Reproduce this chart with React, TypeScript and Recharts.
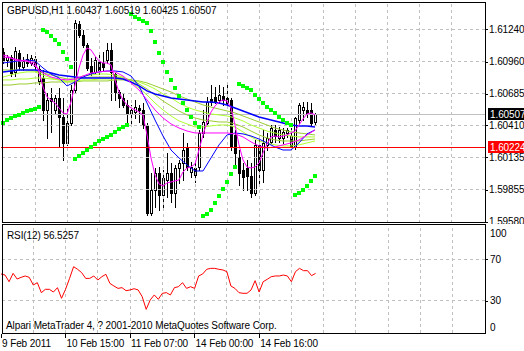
import React from 'react';
import { ComposedChart, Bar, Line, Scatter, XAxis, YAxis, ReferenceLine } from 'recharts';

const FONT = '"Liberation Sans", Arial, sans-serif';
const SLOTS = 121; // 4px per hourly bar across the price panel

// GBPUSD H1 candles, 9 Feb 23:00 onwards
const opens = [
  1.61044, 1.60975, 1.61001, 1.60872, 1.61036, 1.60915, 1.60984, 1.60949, 1.60984, 1.60794,
  1.60820, 1.60544, 1.60647, 1.60544, 1.60647, 1.60483, 1.60259, 1.60431, 1.60716, 1.61286,
  1.61191, 1.61105, 1.60923, 1.60872, 1.60958, 1.60949, 1.60975, 1.61062, 1.60854, 1.60699,
  1.60647, 1.60587, 1.60518, 1.60526, 1.60561, 1.60544, 1.60414, 1.59655, 1.59853, 1.60000,
  1.59810, 1.59940, 1.60000, 1.59827, 1.60043, 1.60086, 1.60216, 1.60009, 1.60043, 1.60052,
  1.60345, 1.60431, 1.60639, 1.60656, 1.60630, 1.60665, 1.60647, 1.60630, 1.60328, 1.60138,
  1.60026, 1.60043, 1.59974, 1.59827, 1.60242, 1.60026, 1.60242, 1.60268, 1.60371, 1.60302,
  1.60302, 1.60345, 1.60319, 1.60224, 1.60457, 1.60544, 1.60544, 1.60544, 1.60437,
];
const highs = [
  1.61079, 1.61018, 1.61018, 1.61087, 1.61062, 1.61001, 1.61027, 1.61018, 1.61010, 1.60923,
  1.60889, 1.60690, 1.60734, 1.60673, 1.60734, 1.60647, 1.60569, 1.60759, 1.61320, 1.61312,
  1.61234, 1.61122, 1.60992, 1.61001, 1.61018, 1.61044, 1.61122, 1.61122, 1.60863, 1.60716,
  1.60690, 1.60630, 1.60587, 1.60630, 1.60587, 1.60604, 1.60431, 1.60000, 1.60043, 1.60052,
  1.60026, 1.60173, 1.60086, 1.60069, 1.60112, 1.60345, 1.60259, 1.60095, 1.60112, 1.60371,
  1.60544, 1.60656, 1.60759, 1.60742, 1.60759, 1.60742, 1.60777, 1.60647, 1.60371, 1.60198,
  1.60086, 1.60112, 1.60086, 1.60285, 1.60285, 1.60371, 1.60345, 1.60414, 1.60414, 1.60397,
  1.60388, 1.60388, 1.60388, 1.60483, 1.60604, 1.60613, 1.60613, 1.60604, 1.60519,
];
const lows = [
  1.60949, 1.60923, 1.60837, 1.60837, 1.60889, 1.60889, 1.60923, 1.60932, 1.60889, 1.60768,
  1.60457, 1.60302, 1.60354, 1.60518, 1.60224, 1.60112, 1.60242, 1.60414, 1.60699, 1.61174,
  1.61087, 1.60889, 1.60846, 1.60863, 1.60854, 1.60889, 1.60949, 1.60630, 1.60630, 1.60569,
  1.60569, 1.60414, 1.60431, 1.60475, 1.60440, 1.60388, 1.59638, 1.59638, 1.59707, 1.59681,
  1.59707, 1.59793, 1.59750, 1.59707, 1.59914, 1.59940, 1.60026, 1.59966, 1.59922, 1.60026,
  1.60311, 1.60414, 1.60587, 1.60604, 1.60604, 1.60587, 1.60587, 1.60198, 1.60052, 1.59897,
  1.59853, 1.59853, 1.59793, 1.59810, 1.59897, 1.59922, 1.60198, 1.60259, 1.60268, 1.60268,
  1.60259, 1.60311, 1.60198, 1.60207, 1.60431, 1.60457, 1.60483, 1.60414, 1.60425,
];
const closes = [
  1.60975, 1.61001, 1.60863, 1.61053, 1.60923, 1.60967, 1.60949, 1.60992, 1.60923, 1.60898,
  1.60544, 1.60630, 1.60621, 1.60647, 1.60483, 1.60259, 1.60431, 1.60716, 1.61295, 1.61191,
  1.61105, 1.60906, 1.60872, 1.60975, 1.60889, 1.60915, 1.61062, 1.60872, 1.60699, 1.60647,
  1.60587, 1.60518, 1.60544, 1.60569, 1.60544, 1.60414, 1.59655, 1.59853, 1.60000, 1.59810,
  1.59957, 1.60000, 1.59827, 1.60043, 1.60086, 1.60198, 1.60052, 1.60052, 1.59983, 1.60345,
  1.60440, 1.60613, 1.60613, 1.60621, 1.60673, 1.60630, 1.60604, 1.60224, 1.60173, 1.60000,
  1.59966, 1.59974, 1.59827, 1.60242, 1.60026, 1.60259, 1.60302, 1.60388, 1.60319, 1.60371,
  1.60354, 1.60371, 1.60224, 1.60475, 1.60587, 1.60569, 1.60518, 1.60431, 1.60507,
];

// Parabolic SAR
const sar = [
  1.60431, 1.60457, 1.60475, 1.60492, 1.60501, 1.60518, 1.60535, 1.60544, 1.60552, 1.60569,
  1.61234, 1.61217, 1.61182, 1.61148, 1.61113, 1.61044, 1.60984, 1.60915, 1.60121, 1.60147,
  1.60173, 1.60198, 1.60224, 1.60250, 1.60276, 1.60293, 1.60311, 1.60328, 1.60354, 1.60380,
  1.60397, 1.60414, 1.61372, 1.61346, 1.61329, 1.61312, 1.61295, 1.61225, 1.61131, 1.61036,
  1.60958, 1.60872, 1.60803, 1.60734, 1.60665, 1.60604, 1.60544, 1.60483, 1.60431, 1.60397,
  1.59629, 1.59646, 1.59681, 1.59741, 1.59801, 1.59862, 1.59922, 1.59991, 1.60052, 1.60768,
  1.60751, 1.60734, 1.60716, 1.60673, 1.60639, 1.60604, 1.60569, 1.60544, 1.60518, 1.60483,
  1.60457, 1.60431, 1.60414, 1.59810, 1.59827, 1.59853, 1.59888, 1.59931, 1.59974,
];

// fast magenta average, every bar
const magentaFast = [
  1.61018, 1.61010, 1.60992, 1.60975, 1.60967, 1.60967, 1.60967, 1.60958, 1.60949, 1.60872,
  1.60742, 1.60656, 1.60630, 1.60604, 1.60561, 1.60518, 1.60509, 1.60613, 1.60759, 1.60906,
  1.61018, 1.61079, 1.61062, 1.61010, 1.60967, 1.60949, 1.60949, 1.60932, 1.60803, 1.60699,
  1.60630, 1.60587, 1.60561, 1.60544, 1.60526, 1.60501, 1.60328, 1.60130, 1.59983, 1.59905,
  1.59888, 1.59914, 1.59922, 1.59931, 1.59940, 1.60009, 1.60043, 1.60052, 1.60078, 1.60198,
  1.60328, 1.60440, 1.60526, 1.60578, 1.60613, 1.60630, 1.60621, 1.60561, 1.60414, 1.60242,
  1.60112, 1.60052, 1.60043, 1.60052, 1.60086, 1.60173, 1.60250, 1.60311, 1.60319, 1.60311,
  1.60319, 1.60328, 1.60345, 1.60362, 1.60414, 1.60466, 1.60509, 1.60518, 1.60501,
];

// slower averages, read every second bar
const magentaSlow = [
  1.61001, 1.60992, 1.60975, 1.60967, 1.60923, 1.60863, 1.60828, 1.60811, 1.60803, 1.60811,
  1.60837, 1.60863, 1.60872, 1.60880, 1.60872, 1.60837, 1.60777, 1.60716, 1.60630, 1.60544,
  1.60475, 1.60423, 1.60388, 1.60362, 1.60345, 1.60345, 1.60345, 1.60345, 1.60345, 1.60337,
  1.60311, 1.60268, 1.60233, 1.60216, 1.60224, 1.60242, 1.60259, 1.60285, 1.60328, 1.60371,
];
const blueFast = [
  1.60949, 1.60958, 1.60967, 1.60975, 1.60967, 1.60906, 1.60854, 1.60820, 1.60751, 1.60785,
  1.60828, 1.60854, 1.60872, 1.60880, 1.60880, 1.60872, 1.60837, 1.60751, 1.60604, 1.60457,
  1.60319, 1.60198, 1.60130, 1.60069, 1.60017, 1.60017, 1.60130, 1.60242, 1.60328, 1.60345,
  1.60337, 1.60319, 1.60293, 1.60259, 1.60224, 1.60198, 1.60198, 1.60259, 1.60337, 1.60371,
];
const blueSlow = [
  1.60872, 1.60880, 1.60889, 1.60889, 1.60889, 1.60880, 1.60863, 1.60846, 1.60837, 1.60828,
  1.60820, 1.60820, 1.60820, 1.60820, 1.60820, 1.60811, 1.60785, 1.60751, 1.60708, 1.60682,
  1.60665, 1.60647, 1.60639, 1.60630, 1.60621, 1.60613, 1.60613, 1.60604, 1.60587, 1.60561,
  1.60535, 1.60509, 1.60483, 1.60466, 1.60449, 1.60431, 1.60414, 1.60406, 1.60406, 1.60397,
];
const green1 = [
  1.60828, 1.60846, 1.60863, 1.60872, 1.60872, 1.60846, 1.60820, 1.60803, 1.60785, 1.60803,
  1.60837, 1.60846, 1.60854, 1.60854, 1.60846, 1.60828, 1.60785, 1.60734, 1.60673, 1.60604,
  1.60544, 1.60492, 1.60449, 1.60423, 1.60397, 1.60397, 1.60406, 1.60414, 1.60414, 1.60397,
  1.60354, 1.60311, 1.60276, 1.60259, 1.60242, 1.60233, 1.60233, 1.60242, 1.60259, 1.60276,
];
const green2 = [
  1.60889, 1.60889, 1.60889, 1.60889, 1.60880, 1.60863, 1.60846, 1.60828, 1.60811, 1.60811,
  1.60820, 1.60828, 1.60828, 1.60828, 1.60828, 1.60820, 1.60803, 1.60768, 1.60725, 1.60673,
  1.60621, 1.60578, 1.60535, 1.60501, 1.60475, 1.60457, 1.60449, 1.60440, 1.60440, 1.60423,
  1.60397, 1.60362, 1.60328, 1.60302, 1.60285, 1.60276, 1.60276, 1.60276, 1.60285, 1.60293,
];
const green3 = [
  1.60803, 1.60803, 1.60811, 1.60811, 1.60820, 1.60820, 1.60811, 1.60803, 1.60794, 1.60794,
  1.60803, 1.60803, 1.60811, 1.60811, 1.60811, 1.60811, 1.60803, 1.60785, 1.60759, 1.60725,
  1.60682, 1.60647, 1.60604, 1.60569, 1.60544, 1.60526, 1.60509, 1.60501, 1.60492, 1.60475,
  1.60449, 1.60414, 1.60388, 1.60362, 1.60345, 1.60328, 1.60319, 1.60311, 1.60311, 1.60311,
];
const green4 = [
  1.60759, 1.60759, 1.60768, 1.60768, 1.60777, 1.60777, 1.60785, 1.60785, 1.60785, 1.60785,
  1.60794, 1.60794, 1.60794, 1.60794, 1.60803, 1.60803, 1.60803, 1.60794, 1.60777, 1.60751,
  1.60725, 1.60699, 1.60665, 1.60639, 1.60613, 1.60587, 1.60569, 1.60552, 1.60535, 1.60518,
  1.60492, 1.60466, 1.60440, 1.60414, 1.60388, 1.60371, 1.60354, 1.60345, 1.60337, 1.60328,
];

// RSI(12)
const rsi = [
  55.9, 54.9, 48.5, 56.5, 51.1, 52.7, 54.0, 52.7, 45.3, 47.6,
  38.0, 41.2, 41.2, 38.6, 42.8, 32.6, 41.2, 51.7, 62.9, 60.4,
  57.2, 51.7, 51.7, 54.0, 50.1, 53.3, 55.6, 46.9, 44.4, 42.1,
  42.8, 39.9, 40.6, 41.8, 40.6, 34.2, 22.0, 31.0, 35.8, 31.6,
  37.4, 38.0, 35.8, 42.8, 43.7, 47.6, 42.1, 43.7, 42.1, 54.0,
  55.9, 60.4, 61.3, 61.3, 60.4, 59.8, 58.1, 44.4, 42.1, 38.0,
  37.4, 37.4, 40.6, 49.5, 38.6, 48.5, 50.8, 53.3, 54.0, 54.0,
  54.9, 54.0, 48.5, 58.1, 61.3, 59.1, 59.1, 54.3, 56.5,
];

const timeLabels: Record<number, string> = {
  0: '9 Feb 2011',
  16: '10 Feb 15:00',
  32: '11 Feb 07:00',
  48: '14 Feb 00:00',
  64: '14 Feb 16:00',
};
const priceTicks = [1.6124, 1.6096, 1.60685, 1.6041, 1.60135, 1.59855, 1.5958];
const gridPrices = [1.6124, 1.6096, 1.60685, 1.6041, 1.60135, 1.59855];
const gridBars = [8, 16, 24, 32, 40, 48, 56, 64, 72, 80, 88, 96, 104, 112];
const bidPrice = 1.60507;
const alertPrice = 1.60224;
const rsiTicks = [0, 30, 70, 100];
const rsiLevels = [70, 30];

const rows = Array.from({ length: SLOTS }, (_, t) => {
  const r: any = { t };
  if (t < opens.length) {
    r.open = opens[t];
    r.high = highs[t];
    r.low = lows[t];
    r.close = closes[t];
    r.range = [lows[t], highs[t]];
    r.sar = sar[t];
    r.magentaFast = magentaFast[t];
    r.rsi = rsi[t];
  }
  if (t % 2 === 0 && t / 2 < magentaSlow.length) {
    const k = t / 2;
    r.magentaSlow = magentaSlow[k];
    r.blueFast = blueFast[k];
    r.blueSlow = blueSlow[k];
    r.green1 = green1[k];
    r.green2 = green2[k];
    r.green3 = green3[k];
    r.green4 = green4[k];
  }
  return r;
});

const Candle = (props: any) => {
  const { x, y, width, height, payload } = props;
  if (!payload || payload.open == null) return null;
  const { open, close, high, low } = payload;
  const span = high - low || 1;
  const py = (v: number) => y + ((high - v) / span) * height;
  const col = Math.floor(x + width / 2);
  const top = Math.round(py(Math.max(open, close)));
  const bot = Math.round(py(Math.min(open, close)));
  const up = close >= open;
  return (
    <g shapeRendering="crispEdges">
      <line x1={col + 0.5} x2={col + 0.5} y1={Math.round(y)} y2={Math.round(y + height) + 1} stroke="#000" />
      <rect x={col - 0.5} y={top + 0.5} width={2} height={Math.max(bot - top, 0)} fill={up ? '#fff' : '#000'} stroke="#000" />
    </g>
  );
};

const SarDot = (props: any) => {
  const { cx, cy, payload } = props;
  if (!payload || payload.sar == null || cx == null || cy == null) return null;
  return <rect x={Math.round(cx) - 2} y={Math.round(cy) - 2} width={4} height={4} fill="#00ff00" />;
};

const textStyle = { fontSize: 10, fontFamily: FONT, letterSpacing: -0.1 };

const PriceTick = (props: any) => {
  const { x, y, payload } = props;
  const yy = Math.round(y) + 0.5;
  return (
    <g>
      <line x1={x} x2={x + 3} y1={yy} y2={yy} stroke="#000" shapeRendering="crispEdges" />
      <text x={x + 4} y={y} dy="0.35em" fill="#000" {...textStyle}>
        {Number(payload.value).toFixed(5)}
      </text>
    </g>
  );
};

const RsiTick = (props: any) => {
  const { x, y, payload } = props;
  const v = payload.value;
  const shift = v === 100 ? 5 : v === 0 ? -5 : 0;
  const yy = Math.round(y) + 0.5;
  return (
    <g>
      {v !== 0 && v !== 100 && (
        <line x1={x} x2={x + 3} y1={yy} y2={yy} stroke="#000" shapeRendering="crispEdges" />
      )}
      <text x={x + 5} y={y + shift} dy="0.35em" fill="#000" {...textStyle}>
        {v}
      </text>
    </g>
  );
};

const TimeTick = (props: any) => {
  const { x, y, payload } = props;
  const label = timeLabels[payload.value];
  if (!label) return null;
  const col = Math.floor(x) + 0.5;
  return (
    <g>
      <line x1={col} x2={col} y1={y + 1} y2={y + 5} stroke="#000" shapeRendering="crispEdges" />
      <text x={x + 1} y={y + 10} dy="0.35em" fill="#000" {...textStyle}>
        {label}
      </text>
    </g>
  );
};

const Flag = (props: any) => {
  const { viewBox, bg, value } = props;
  if (!viewBox) return null;
  const y = Math.round(viewBox.y);
  const x = viewBox.x + viewBox.width + 3;
  return (
    <g>
      <rect x={x} y={y - 6} width={40} height={12} fill={bg} />
      <text x={x + 2} y={y} dy="0.35em" fill="#fff" {...textStyle}>
        {value.toFixed(5)}
      </text>
    </g>
  );
};

const gridLine = { stroke: '#c0c0c0', strokeDasharray: '3 3', shapeRendering: 'crispEdges' } as any;
const overlayText = { position: 'absolute', fontSize: 10, lineHeight: '12px', letterSpacing: -0.1, whiteSpace: 'nowrap' } as any;

export default function App() {
  return (
    <div style={{ position: 'absolute', left: 0, top: 0, width: 524, height: 351, background: '#fff', fontFamily: FONT, overflow: 'hidden' }}>
      {/* price panel */}
      <div style={{ position: 'absolute', left: 0, top: 0 }}>
        <ComposedChart width={524} height={226} data={rows} margin={{ top: 3, right: 0, bottom: 3, left: 1 }}>
          <XAxis dataKey="t" type="category" hide />
          <YAxis
            orientation="right"
            width={39}
            type="number"
            domain={[1.59568, 1.61467]}
            ticks={priceTicks}
            interval={0}
            allowDataOverflow
            axisLine={false}
            tickLine={false}
            tickSize={0}
            tickMargin={0}
            tick={<PriceTick />}
          />
          {gridBars.map((b) => (
            <ReferenceLine key={'v' + b} x={b} {...gridLine} />
          ))}
          {gridPrices.map((p) => (
            <ReferenceLine key={'h' + p} y={p} {...gridLine} />
          ))}
          <ReferenceLine y={bidPrice} stroke="#c0c0c0" shapeRendering="crispEdges" label={<Flag bg="#000" value={bidPrice} />} />
          <Bar dataKey="range" barSize={3} shape={<Candle />} isAnimationActive={false} />
          <Line dataKey="green4" stroke="#9acd32" strokeWidth={1} dot={false} connectNulls isAnimationActive={false} />
          <Line dataKey="green3" stroke="#adff2f" strokeWidth={1} dot={false} connectNulls isAnimationActive={false} />
          <Line dataKey="green2" stroke="#9acd32" strokeWidth={1} dot={false} connectNulls isAnimationActive={false} />
          <Line dataKey="green1" stroke="#adff2f" strokeWidth={1} dot={false} connectNulls isAnimationActive={false} />
          <Line dataKey="blueSlow" stroke="#0000ff" strokeWidth={1.5} dot={false} connectNulls isAnimationActive={false} />
          <Line dataKey="blueFast" stroke="#0000ff" strokeWidth={1} dot={false} connectNulls isAnimationActive={false} />
          <Line dataKey="magentaSlow" stroke="#ff00ff" strokeWidth={1} dot={false} connectNulls isAnimationActive={false} />
          <Line dataKey="magentaFast" stroke="#ff00ff" strokeWidth={1} dot={false} connectNulls isAnimationActive={false} />
          <Scatter dataKey="sar" shape={<SarDot />} isAnimationActive={false} />
          <ReferenceLine y={alertPrice} stroke="#ff0000" shapeRendering="crispEdges" label={<Flag bg="#ff0000" value={alertPrice} />} />
        </ComposedChart>
      </div>
      <div style={{ position: 'absolute', left: 2, top: 2, width: 484, height: 221, border: '1px solid #000', boxSizing: 'border-box', pointerEvents: 'none' }} />
      <div style={{ ...overlayText, left: 7, top: 5 }}>GBPUSD,H1 1.60437 1.60519 1.60425 1.60507</div>

      {/* RSI panel */}
      <div style={{ position: 'absolute', left: 0, top: 224, width: 524, height: 127, background: '#fff' }}>
        <ComposedChart width={524} height={127} data={rows} margin={{ top: 1, right: 0, bottom: 0, left: 1 }}>
          <XAxis
            dataKey="t"
            type="category"
            height={18}
            interval={0}
            axisLine={false}
            tickLine={false}
            tickSize={0}
            tickMargin={0}
            tick={<TimeTick />}
          />
          <YAxis
            orientation="right"
            width={39}
            type="number"
            domain={[-0.7, 102.9]}
            ticks={rsiTicks}
            interval={0}
            allowDataOverflow
            axisLine={false}
            tickLine={false}
            tickSize={0}
            tickMargin={0}
            tick={<RsiTick />}
          />
          {gridBars.map((b) => (
            <ReferenceLine key={'rv' + b} x={b} {...gridLine} />
          ))}
          {rsiLevels.map((v) => (
            <ReferenceLine key={'rh' + v} y={v} {...gridLine} />
          ))}
          <Line dataKey="rsi" stroke="#ff0000" strokeWidth={1} dot={false} isAnimationActive={false} />
        </ComposedChart>
        <div style={{ position: 'absolute', left: 2, top: 0, width: 484, height: 110, border: '1px solid #000', boxSizing: 'border-box', pointerEvents: 'none' }} />
        <div style={{ ...overlayText, left: 7, top: 6 }}>RSI(12) 56.5257</div>
        <div style={{ ...overlayText, left: 6, top: 96 }}>Alpari MetaTrader 4, ? 2001-2010 MetaQuotes Software Corp.</div>
      </div>
    </div>
  );
}
